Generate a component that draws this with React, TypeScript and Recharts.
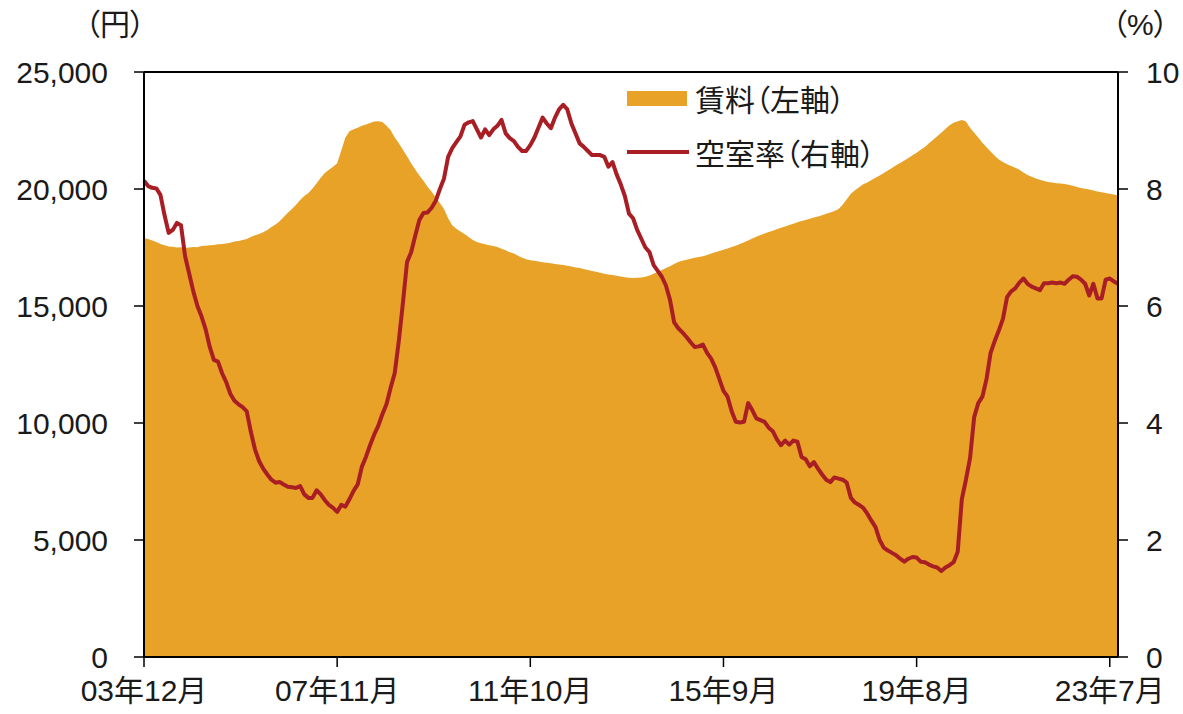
import React from "react";
import { Area, ComposedChart, Line, ReferenceLine, XAxis, YAxis } from "recharts";

// 賃料 (円), monthly from 03年12月
const RENT = [
  17900, 17860, 17800, 17740, 17650, 17600, 17540, 17530, 17500, 17510,
  17480, 17500, 17520, 17510, 17560, 17580, 17600, 17610, 17640, 17650,
  17670, 17700, 17760, 17780, 17820, 17860, 17950, 18020, 18080, 18150,
  18250, 18380, 18480, 18620, 18800, 18980, 19150, 19330, 19530, 19700,
  19830, 20020, 20250, 20480, 20680, 20820, 20950, 21100, 21650, 22200,
  22470, 22550, 22620, 22700, 22760, 22820, 22880, 22900, 22860, 22700,
  22520, 22200, 21950, 21680, 21400, 21100, 20830, 20580, 20350, 20100,
  19880, 19650, 19400, 19150, 18750, 18450, 18300, 18180, 18080, 17950,
  17820, 17740, 17680, 17640, 17600, 17560, 17520, 17450, 17380, 17300,
  17240, 17150, 17060, 17000, 16960, 16930, 16900, 16870, 16850, 16830,
  16800, 16770, 16750, 16720, 16690, 16650, 16620, 16580, 16540, 16500,
  16460, 16420, 16380, 16350, 16320, 16290, 16260, 16230, 16210, 16200,
  16210, 16220, 16250, 16300, 16380, 16460, 16540, 16620, 16700, 16790,
  16880, 16930, 16980, 17020, 17060, 17090, 17130, 17180, 17240, 17300,
  17350, 17400, 17460, 17520, 17580, 17650, 17720, 17800, 17880, 17960,
  18030, 18100, 18160, 18220, 18280, 18340, 18400, 18460, 18520, 18580,
  18630, 18680, 18730, 18780, 18830, 18880, 18940, 19000, 19060, 19150,
  19330, 19560, 19800, 19950, 20080, 20200, 20280, 20380, 20480, 20580,
  20680, 20790, 20900, 21010, 21110, 21220, 21330, 21440, 21550, 21680,
  21800, 21950, 22100, 22250, 22400, 22560, 22720, 22830, 22900, 22950,
  22880, 22620, 22400, 22200, 21980, 21780, 21600, 21420, 21260, 21150,
  21060, 20980, 20910, 20820, 20700, 20600, 20520, 20450, 20400, 20340,
  20300, 20280, 20250, 20230, 20210, 20180, 20140, 20090, 20040, 20010,
  19980, 19940, 19890, 19860, 19830, 19800, 19760, 19730,
];

// 空室率 (%)
const VACANCY = [
  8.14, 8.05, 8.02, 8.01, 7.9, 7.55, 7.25, 7.3, 7.42, 7.38,
  6.85, 6.55, 6.25, 6.0, 5.82, 5.6, 5.3, 5.08, 5.05, 4.85,
  4.7, 4.5, 4.38, 4.32, 4.27, 4.2, 3.85, 3.55, 3.35, 3.22,
  3.12, 3.03, 2.98, 2.99, 2.95, 2.91, 2.9, 2.89, 2.92, 2.78,
  2.72, 2.72, 2.85, 2.78, 2.68, 2.6, 2.55, 2.48, 2.6, 2.57,
  2.7, 2.84, 2.95, 3.25, 3.42, 3.62, 3.8, 3.95, 4.15, 4.32,
  4.6, 4.85, 5.4, 6.05, 6.75, 6.92, 7.2, 7.47, 7.59, 7.6,
  7.68, 7.8, 8.0, 8.18, 8.55, 8.7, 8.8, 8.9, 9.1, 9.14,
  9.16, 9.02, 8.88, 9.02, 8.92, 9.02, 9.08, 9.18, 8.95, 8.87,
  8.82, 8.72, 8.65, 8.65, 8.75, 8.88, 9.05, 9.22, 9.12, 9.04,
  9.22, 9.36, 9.44, 9.36, 9.12, 8.95, 8.78, 8.72, 8.65, 8.58,
  8.58, 8.58, 8.55, 8.38, 8.46, 8.25, 8.08, 7.88, 7.58, 7.5,
  7.3, 7.15, 7.0, 6.92, 6.7, 6.6, 6.5, 6.35, 6.1, 5.72,
  5.62, 5.55, 5.47, 5.38, 5.3, 5.31, 5.34, 5.2, 5.1, 4.95,
  4.75, 4.55, 4.45, 4.2, 4.02, 4.01, 4.02, 4.34, 4.22, 4.08,
  4.05, 4.02, 3.92, 3.86, 3.72, 3.62, 3.7, 3.63, 3.7, 3.68,
  3.42, 3.38, 3.26, 3.33, 3.22, 3.12, 3.03, 2.99, 3.07, 3.05,
  3.03, 2.98, 2.72, 2.64, 2.6, 2.55, 2.45, 2.33, 2.22, 2.0,
  1.87, 1.82, 1.78, 1.74, 1.68, 1.63, 1.68, 1.71, 1.7, 1.63,
  1.62, 1.58, 1.55, 1.53, 1.47, 1.53, 1.57, 1.62, 1.8, 2.7,
  3.03, 3.4, 4.1, 4.34, 4.45, 4.75, 5.2, 5.4, 5.58, 5.78,
  6.15, 6.25, 6.3, 6.4, 6.47, 6.38, 6.33, 6.3, 6.27, 6.39,
  6.39, 6.4, 6.39, 6.4, 6.38, 6.45, 6.51, 6.5, 6.45, 6.38,
  6.18, 6.38, 6.13, 6.13, 6.45, 6.47, 6.42, 6.38,
];

const START_YEAR = 2003;
const START_MONTH = 12;
const MONTHS = RENT.map((_, i) => {
  const m = START_MONTH - 1 + i;
  const y = START_YEAR + Math.floor(m / 12);
  return `${String(y % 100).padStart(2, "0")}年${(m % 12) + 1}月`;
});

const RENT_TICKS = [0, 5000, 10000, 15000, 20000, 25000];
const VACANCY_TICKS = [0, 2, 4, 6, 8, 10];

const data = MONTHS.map((month, i) => ({ month, rent: RENT[i], vacancy: VACANCY[i] }));

const FONT = "'Liberation Sans', Arial, 'Noto Sans CJK JP', sans-serif";
const ORANGE = "#E8A227";
const RED = "#A81E24";
const tickStyle = { fontSize: 30, fill: "#1a1a1a", fontFamily: FONT };
const palt = { fontFeatureSettings: '"palt"' } as React.CSSProperties;

export default function App() {
  return (
    <div style={{ position: "absolute", left: 0, top: 0, width: 1183, height: 714, background: "#fff", fontFamily: FONT }}>
      <ComposedChart width={1183} height={714} data={data} margin={{ top: 72, right: 0, bottom: 0, left: 0 }}>
        <XAxis
          dataKey="month"
          scale="point"
          padding={{ left: 0, right: 0 }}
          interval={46}
          height={57}
          tick={tickStyle}
          tickSize={10}
          tickMargin={13}
          axisLine={{ stroke: "#000", strokeWidth: 2 }}
          tickLine={{ stroke: "#000", strokeWidth: 1.5 }}
        />
        <YAxis
          yAxisId="left"
          domain={[0, 25000]}
          ticks={RENT_TICKS}
          tickFormatter={(v: number) => v.toLocaleString("en-US")}
          width={144}
          tick={tickStyle}
          tickSize={10}
          tickMargin={26}
          axisLine={{ stroke: "#000", strokeWidth: 2 }}
          tickLine={{ stroke: "#000", strokeWidth: 1.5 }}
        />
        <YAxis
          yAxisId="right"
          orientation="right"
          domain={[0, 10]}
          ticks={VACANCY_TICKS}
          width={65}
          tick={tickStyle}
          tickSize={10}
          tickMargin={18}
          axisLine={{ stroke: "#000", strokeWidth: 2 }}
          tickLine={{ stroke: "#000", strokeWidth: 1.5 }}
        />
        <Area
          yAxisId="left"
          type="linear"
          dataKey="rent"
          fill={ORANGE}
          fillOpacity={1}
          stroke="none"
          isAnimationActive={false}
        />
        <Line
          yAxisId="right"
          type="linear"
          dataKey="vacancy"
          stroke={RED}
          strokeWidth={4}
          strokeLinejoin="round"
          dot={false}
          isAnimationActive={false}
        />
        <ReferenceLine yAxisId="left" y={25000} stroke="#000" strokeWidth={2} />
      </ComposedChart>

      <div style={{ position: "absolute", left: 85, top: 8, fontSize: 30, lineHeight: "34px", color: "#1a1a1a", ...palt }}>
        （円）
      </div>
      <div style={{ position: "absolute", left: 1112, top: 8, fontSize: 30, lineHeight: "34px", color: "#1a1a1a", ...palt }}>
        （%）
      </div>

      <div style={{ position: "absolute", left: 627, top: 80, color: "#1a1a1a", fontSize: 30, ...palt }}>
        <div style={{ display: "flex", alignItems: "center", height: 36 }}>
          <span style={{ display: "inline-block", width: 60, height: 15, background: ORANGE, marginRight: 8 }} />
          <span>賃料（左軸）</span>
        </div>
        <div style={{ display: "flex", alignItems: "center", height: 36, marginTop: 18 }}>
          <span style={{ display: "inline-block", width: 62, height: 4, background: RED, marginRight: 6 }} />
          <span>空室率（右軸）</span>
        </div>
      </div>
    </div>
  );
}
